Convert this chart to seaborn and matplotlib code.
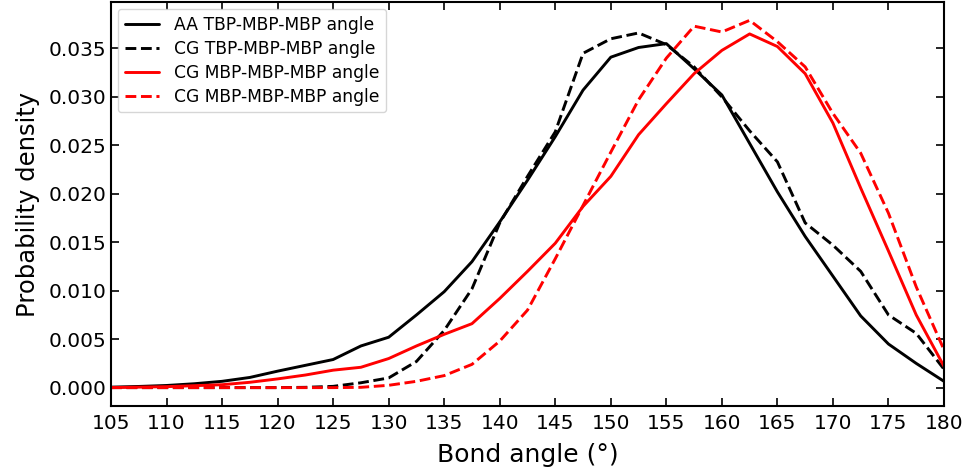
import numpy as np
import pandas as pd
import matplotlib
matplotlib.use('Agg')
import matplotlib.pyplot as plt
import seaborn as sns

# Bond angle bins (degrees)
angles = [105, 107.5, 110, 112.5, 115, 117.5, 120, 122.5, 125, 127.5,
          130, 132.5, 135, 137.5, 140, 142.5, 145, 147.5, 150, 152.5,
          155, 157.5, 160, 162.5, 165, 167.5, 170, 172.5, 175, 177.5, 180]

aa_tbp = [0.00005, 0.00012, 0.00022, 0.0004, 0.00065, 0.00105, 0.0017,
          0.0023, 0.0029, 0.0043, 0.0052, 0.0075, 0.0099, 0.0130, 0.0171,
          0.0214, 0.0259, 0.0307, 0.0341, 0.0351, 0.0355, 0.0329, 0.0302,
          0.0252, 0.0202, 0.0156, 0.0115, 0.0074, 0.0045, 0.0025, 0.00065]

cg_tbp = [0.0, 0.0, 0.0, 0.0, 0.0, 0.0, 0.0, 0.00003, 0.00013, 0.0005,
          0.001, 0.0027, 0.0059, 0.0102, 0.0170, 0.0218, 0.0264, 0.0345,
          0.0360, 0.0366, 0.0354, 0.0331, 0.0300, 0.0265, 0.0233, 0.0170,
          0.0147, 0.0120, 0.0075, 0.0056, 0.0019]

cg_mbp = [0.0, 0.00005, 0.0001, 0.0002, 0.0003, 0.00055, 0.0009, 0.0013,
          0.0018, 0.0021, 0.0030, 0.0043, 0.0055, 0.0066, 0.0092, 0.0120,
          0.0149, 0.0187, 0.0218, 0.0261, 0.0293, 0.0324, 0.0348, 0.0365,
          0.0352, 0.0324, 0.0273, 0.0206, 0.0141, 0.0075, 0.0022]

cg_mbp2 = [0.0, 0.0, 0.0, 0.0, 0.0, 0.0, 0.0, 0.0, 0.0, 0.00003,
           0.00024, 0.00065, 0.00124, 0.0024, 0.0048, 0.0080, 0.0133,
           0.0188, 0.0243, 0.0297, 0.0340, 0.0373, 0.0367, 0.0379, 0.0357,
           0.0331, 0.0283, 0.0242, 0.0180, 0.0104, 0.0039]

labels = ['AA TBP-MBP-MBP angle', 'CG TBP-MBP-MBP angle',
          'CG MBP-MBP-MBP angle', 'CG MBP-MBP-MBP angle']


def main():
    sns.set_style('ticks', {'xtick.direction': 'in', 'ytick.direction': 'in',
                            'axes.edgecolor': 'black',
                            'axes.labelcolor': 'black', 'text.color': 'black',
                            'xtick.color': 'black', 'ytick.color': 'black'})
    plt.rcParams['font.family'] = ['DejaVu Sans']
    plt.rcParams['axes.linewidth'] = 1.5

    fig, ax = plt.subplots(figsize=(9.68, 4.75), dpi=100)
    fig.subplots_adjust(left=0.1147, right=0.9752, top=0.9958, bottom=0.1453)

    series = [aa_tbp, cg_tbp, cg_mbp, cg_mbp2]
    colors = ['black', 'black', 'red', 'red']
    styles = ['-', '--', '-', '--']
    for vals, lab, col, ls in zip(series, labels, colors, styles):
        df = pd.DataFrame({'angle': angles, 'density': vals})
        sns.lineplot(data=df, x='angle', y='density', color=col,
                     linestyle=ls, linewidth=2.1, label=lab, ax=ax)

    ax.set_xlim(105, 180)
    ax.set_xticks(np.arange(105, 181, 5))
    ax.set_yticks(np.arange(0, 0.0351, 0.005))
    ax.yaxis.set_major_formatter(plt.FormatStrFormatter('%.3f'))
    ax.tick_params(axis='both', which='both', direction='in', top=True,
                   right=True, length=6, width=1.2, labelsize=14.5,
                   colors='black')
    ax.tick_params(axis='x', pad=6)

    ax.set_xlabel('Bond angle (°)', fontsize=18, labelpad=7, color='black')
    ax.set_ylabel('Probability density', fontsize=17.5, labelpad=6,
                  color='black')

    leg = ax.legend(loc='upper left', fontsize=12.3, labelspacing=0.35,
                    borderaxespad=0.4, handletextpad=0.9)
    for t in leg.get_texts():
        t.set_color('black')

    fig.savefig('out.png', dpi=100)


if __name__ == '__main__':
    main()
